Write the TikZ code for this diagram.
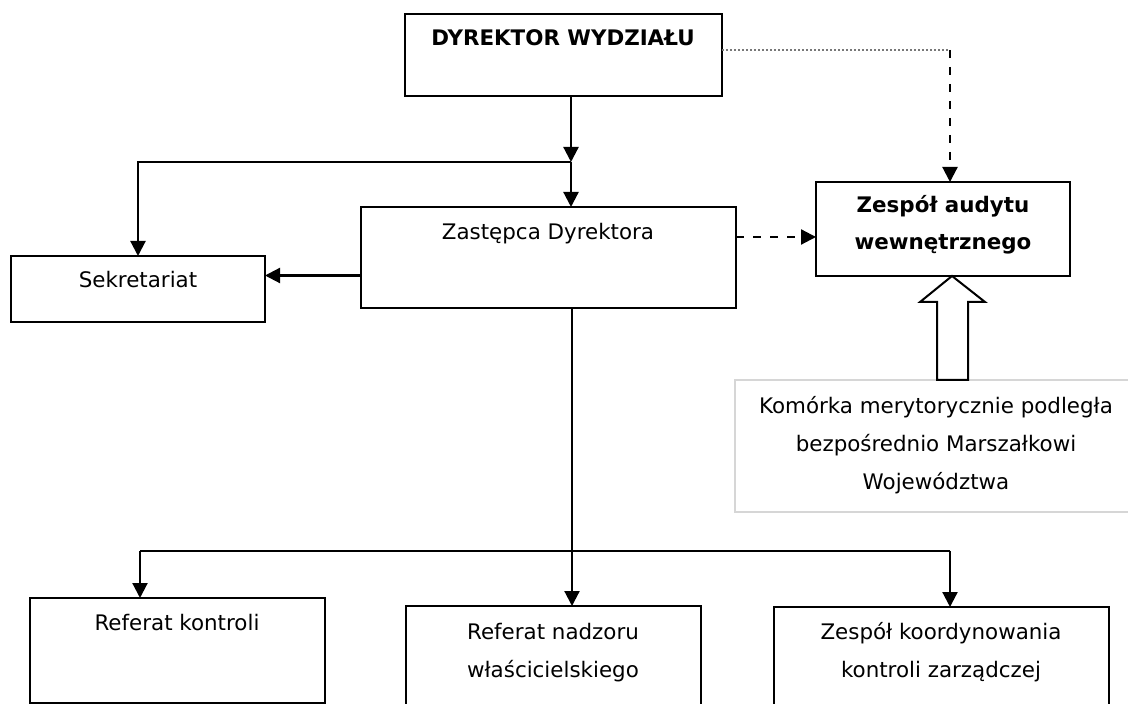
\documentclass[tikz,border=0pt]{standalone}
\usepackage{fontspec}
\setmainfont{DejaVu Sans}
\usepackage{tikz}
\usetikzlibrary{positioning,arrows.meta,calc}
\definecolor{komGray}{RGB}{214,214,214}
\definecolor{dotGray}{RGB}{120,120,120}

\begin{document}
\begin{tikzpicture}[x=0.5pt,y=-0.5pt,font=\fontsize{10.7}{19}\selectfont,
      unit/.style={draw,line width=1pt,inner sep=0pt,outer sep=0pt,anchor=north west},
      txt/.style={inner sep=0pt,align=center,anchor=base},
      link/.style={line width=1.1pt,-{Triangle[length=7.5pt,width=7.5pt]}},
      dlink/.style={link,dash pattern=on 4pt off 4.5pt}]
    \useasboundingbox (0,0) rectangle (1128,704);
    \clip (0,0) rectangle (1128,704);
    % boxes
    \node[unit,minimum width=158.5pt,minimum height=41pt] (dyr) at (405,14) {};
    \node[unit,minimum width=187.5pt,minimum height=50.5pt] (zast) at (361,207) {};
    \node[unit,minimum width=127pt,minimum height=33pt] (sekr) at (11,256) {};
    \node[unit,minimum width=127pt,minimum height=47pt] (audyt) at (816,182) {};
    \node[unit,draw=komGray,minimum width=202.5pt,minimum height=66pt] (kom) at (735,380) {};
    \node[unit,minimum width=147.5pt,minimum height=52.5pt] (refk) at (30,598) {};
    \node[unit,minimum width=147.5pt,minimum height=57pt] (refn) at (406,606) {};
    \node[unit,minimum width=167.5pt,minimum height=57pt] (refz) at (774,607) {};
    % texts (multi-line ones sit on their last line)
    \node[txt,font=\fontsize{10.7}{19}\selectfont\bfseries] (dyrT) at (563,46) {DYREKTOR WYDZIAŁU};
    \node[txt] (zastT) at (548,240) {Zastępca Dyrektora};
    \node[txt] (sekrT) at (138,288) {Sekretariat};
    \node[txt,font=\fontsize{10.7}{18.5}\selectfont\bfseries] (audytT) at (943,250) {Zespół audytu\\wewnętrznego};
    \node[txt] (komT) at (936,490) {Komórka merytorycznie podległa\\bezpośrednio Marszałkowi\\Województwa};
    \node[txt] (refkT) at (177,630) {Referat kontroli};
    \node[txt] (refnT) at (553,677) {Referat nadzoru\\właścicielskiego};
    \node[txt] (refzT) at (941,677) {Zespół koordynowania\\kontroli zarządczej};
    % junctions
    \coordinate (j1) at (571,162);
    \coordinate (j2) at (572,551);
    \coordinate (bl) at (140,551);
    \coordinate (br) at (950,551);
    \coordinate (c1) at (950,50);
    \coordinate (tip) at (952,276);
    % connectors
    \draw[link] (dyr.south -| j1) -- (j1);
    \draw[link] (j1) -- (zast.north -| j1);
    \draw[link] (j1) -| (sekr.north);
    \draw[link] ([yshift=-9pt]zast.west) -- ([yshift=-9pt]zast.west -| sekr.east);
    \draw[dlink] ([yshift=-4pt]audyt.west -| zast.east) -- ([yshift=-4pt]audyt.west);
    \draw[dotGray,line width=0.6pt,dash pattern=on 1pt off 1pt] (dyr.east |- c1) -- (c1);
    \draw[dlink] (c1) -- (c1 |- audyt.north);
    \draw[link] (zast.south -| j2) -- (j2 |- refn.north);
    \draw[line width=1.1pt] (bl) -- (br);
    \draw[link] (bl) -- (bl |- refk.north);
    \draw[link] (br) -- (br |- refz.north);
    % hollow arrow
    \draw[line width=1pt,fill=white] (tip) -- (985,302) -- (968,302) -- (968,380)
      -- (937,380) -- (937,302) -- (920,302) -- cycle;
  \end{tikzpicture}
\end{document}
